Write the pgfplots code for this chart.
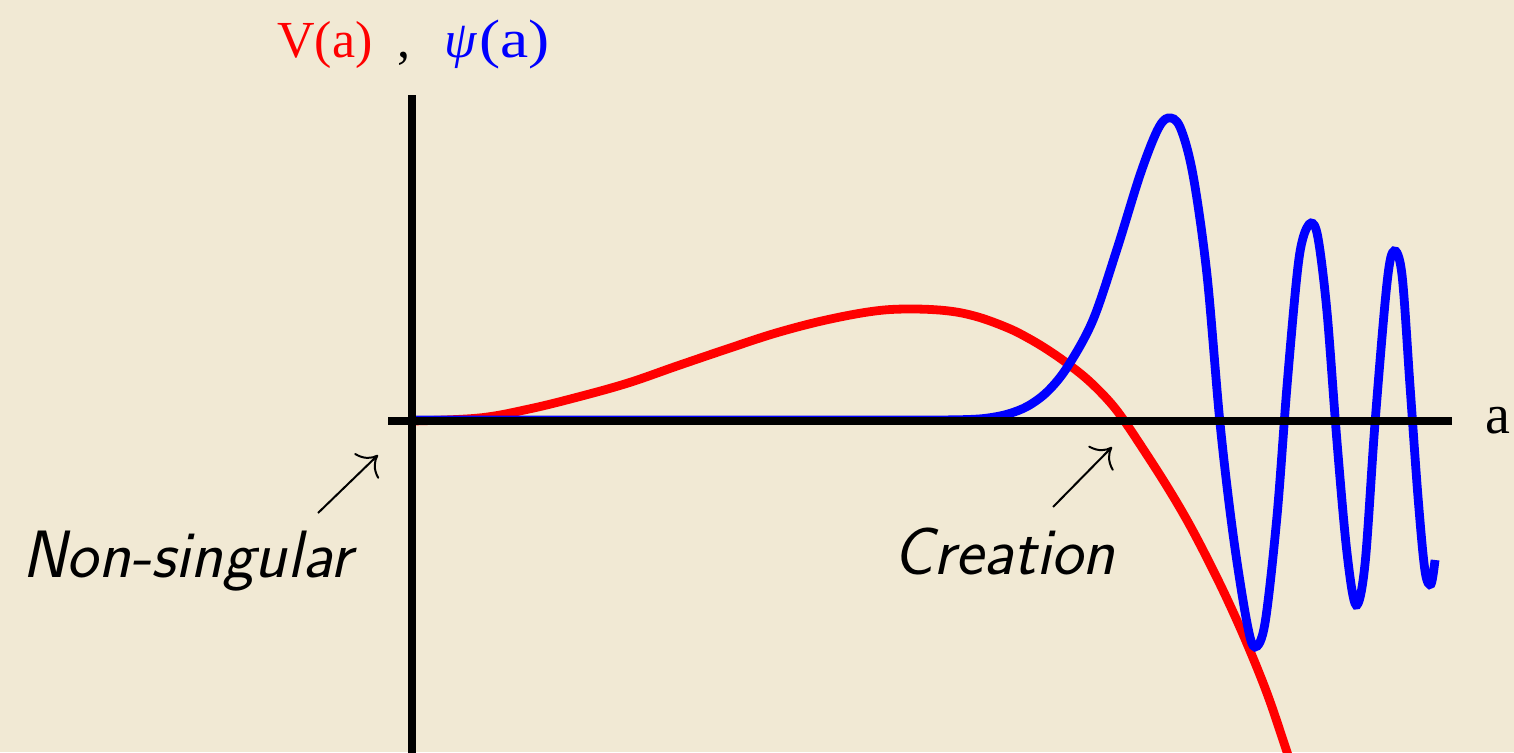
\documentclass[border=0pt]{standalone}
\usepackage{pgfplots}
\pgfplotsset{compat=1.18}
\usepackage{graphicx}
\usepackage{fontspec}
\setmainfont{Liberation Serif}
\usetikzlibrary{arrows.meta}
\definecolor{bg}{RGB}{241,233,212}
\begin{document}
\begin{tikzpicture}
\begin{axis}[hide axis, scale only axis, width=757pt, height=376pt,
  xmin=-408, xmax=1106, ymin=-331, ymax=421, clip=true, clip bounding box=upper bound]
\fill[bg] (rel axis cs:0,0) rectangle (rel axis cs:1,1);
\coordinate (BL) at (rel axis cs:0,0);
\coordinate (TR) at (rel axis cs:1,1);
% V(a)
\addplot[red, line width=4.4pt, smooth, tension=0.6] coordinates {
(4,0) (71,3) (121,12) (170,24) (220,38) (269,55) (319,72) (368,88) (418,101) (467,110) (504,112) (541,110) (570,104) (600,93) (620,83) (640,71) (660,57) (680,41) (700,21) (715,2) (739,-34) (760,-67) (780,-101) (800,-139) (820,-180) (840,-225) (860,-275) (879,-331) (895,-378)};
% psi(a)
\addplot[blue, line width=4.4pt, smooth, tension=0.55] coordinates {
(4,1) (200,1) (400,1) (520,1) (560,1.5) (580,3) (600,7) (620,15) (640,30) (660,55) (685,101) (709,172) (732,246) (749,290) (760,303) (772,294) (785,246) (799,146) (812,-2) (825,-113) (839,-202) (847,-226) (857,-202) (869,-95) (879,35) (889,146) (895,183) (903,198) (910,183) (919,109) (929,-21) (939,-132) (948,-184) (957,-143) (967,-2) (979,138) (986,170) (994,146) (1002,35) (1010,-76) (1017,-150) (1023,-163) (1027,-139)};
% axes
\addplot[black, line width=3.7pt] coordinates {(-20,0) (1044,0)};
\addplot[black, line width=3.7pt] coordinates {(4,326) (4,-345)};
% labels
\node[anchor=base west, inner sep=0pt, font=\fontsize{26}{30}\selectfont] at (axis cs:-131,363)
  {\textcolor{red}{V(a)}\hspace{0.48em},\hspace{0.65em}\textcolor{blue}{\textit{ψ}\hspace{0.03em}\scalebox{1.22}[1.04]{(a)}}};
\node[anchor=base west, inner sep=0pt, font=\fontsize{28}{32}\selectfont] at (axis cs:1077,-12) {a};
\node[anchor=base west, inner sep=0pt, font=\fontsize{33.5}{38}\selectfont\sffamily\itshape] at (axis cs:-386,-156) {Non-singular};
\node[anchor=base west, inner sep=0pt, font=\fontsize{33.5}{38}\selectfont\sffamily\itshape] at (axis cs:485,-153) {Creation};
\draw[line width=1pt, -{Computer Modern Rightarrow[scale=2.2]}] (axis cs:-90,-92) -- (axis cs:-30,-34);
\draw[line width=1pt, -{Computer Modern Rightarrow[scale=2.2]}] (axis cs:645,-86) -- (axis cs:704,-26);
\end{axis}
\pgfresetboundingbox
\path[use as bounding box] (BL) rectangle (TR);
\end{tikzpicture}
\end{document}
